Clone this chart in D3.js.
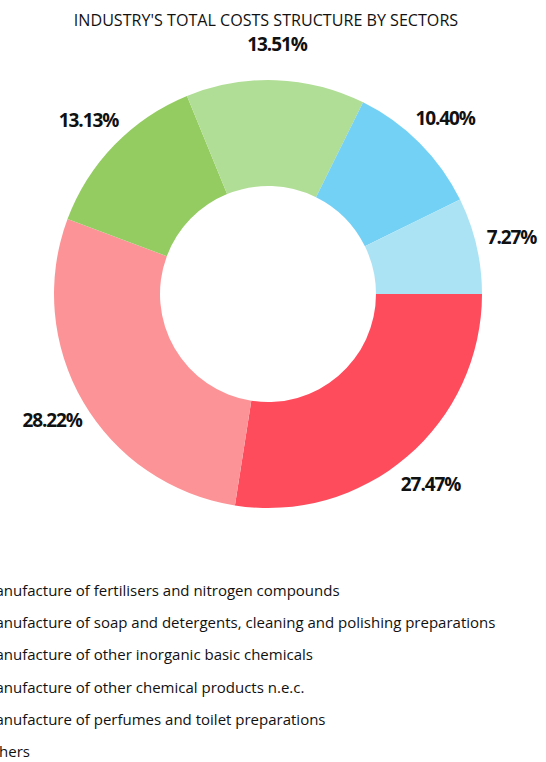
<!DOCTYPE html>
<html><head><meta charset="utf-8">
<script src="https://cdn.jsdelivr.net/npm/d3@7"></script>
<style>html,body{margin:0;padding:0;background:#fff;overflow:hidden}</style>
</head><body>
<svg id="chart" width="546" height="762"></svg>
<script>
const title = "INDUSTRY'S TOTAL COSTS STRUCTURE BY SECTORS";
const categories = [
  "Manufacture of fertilisers and nitrogen compounds",
  "Manufacture of soap and detergents, cleaning and polishing preparations",
  "Manufacture of other inorganic basic chemicals",
  "Manufacture of other chemical products n.e.c.",
  "Manufacture of perfumes and toilet preparations",
  "Others"
];
const values = [27.47, 28.22, 13.13, 13.51, 10.40, 7.27];
const colors = ["#FF4C5D", "#FC9497", "#94CC62", "#B1DE96", "#74D1F6", "#ACE3F4"];

const font = "'Open Sans', sans-serif";
const svg = d3.select("#chart");
const cx = 268, cy = 294, R = 214, r0 = 108, rl = 250;

svg.append("text").attr("x", 266).attr("y", 20)
  .attr("text-anchor", "middle").attr("dominant-baseline", "central")
  .attr("font-family", font).attr("font-size", 16.1).attr("fill", "#111")
  .text(title);

const pie = d3.pie().sort(null).value(d => d.v)
  .startAngle(Math.PI / 2).endAngle(Math.PI / 2 + 2 * Math.PI);
const data = values.map((v, i) => ({v, c: colors[i], name: categories[i]}));
const arcs = pie(data);
const arc = d3.arc().innerRadius(r0).outerRadius(R);
const labelArc = d3.arc().innerRadius(rl).outerRadius(rl);

const g = svg.append("g").attr("transform", `translate(${cx},${cy})`);
g.selectAll("path").data(arcs).join("path")
  .attr("d", arc).attr("fill", d => d.data.c);

g.selectAll("text").data(arcs).join("text")
  .attr("transform", d => `translate(${labelArc.centroid(d)})`)
  .attr("text-anchor", "middle").attr("dominant-baseline", "central")
  .attr("font-family", font).attr("font-size", 19).attr("font-weight", "bold")
  .attr("letter-spacing", -1.1).attr("fill", "#111")
  .text(d => d3.format(".2f")(d.data.v) + "%");

const y = d3.scalePoint().domain(categories).range([590, 751]);
const leg = svg.append("g");
const items = leg.selectAll("g").data(data).join("g")
  .attr("transform", d => `translate(0,${y(d.name)})`);
items.append("rect").attr("x", -48).attr("y", -7).attr("width", 14).attr("height", 14)
  .attr("fill", d => d.c);
items.append("text").attr("x", -18).attr("y", 0)
  .attr("dominant-baseline", "central")
  .attr("font-family", font).attr("font-size", 15).attr("fill", "#111")
  .text(d => d.name);
</script>
</body></html>
